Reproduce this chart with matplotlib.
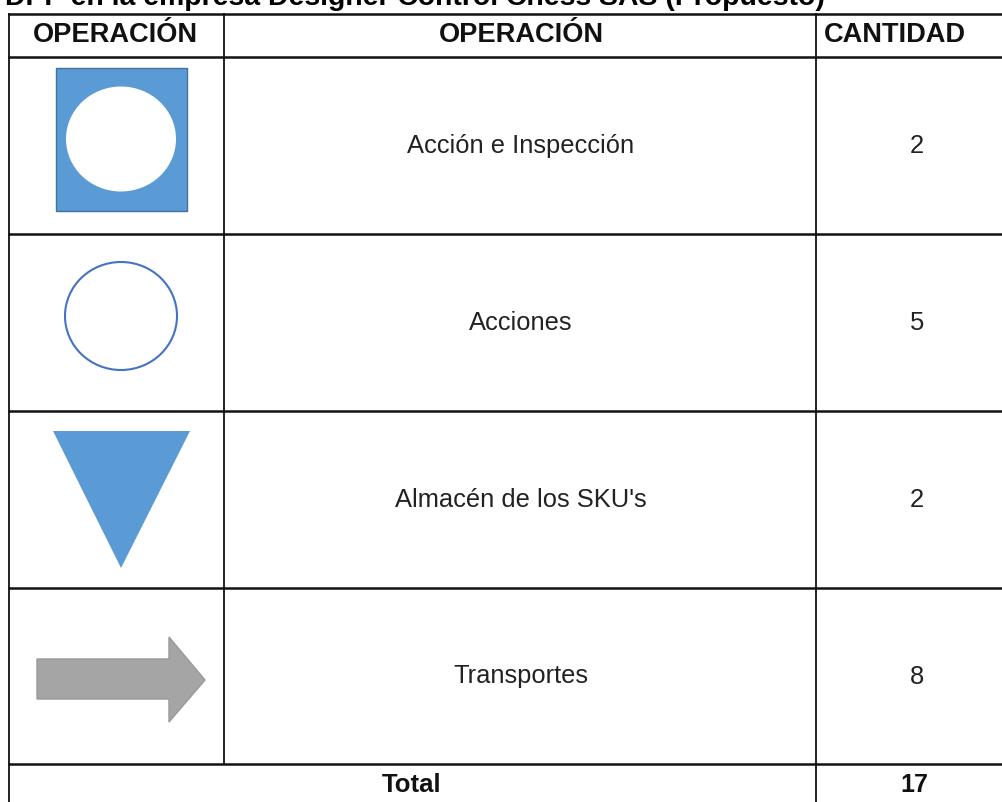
import matplotlib
matplotlib.use('Agg')
import matplotlib.pyplot as plt
from matplotlib.patches import Rectangle, Ellipse, Polygon

# table contents
title = 'DPP en la empresa Designer Control Chess SAS (Propuesto)'
header = ['OPERACIÓN', 'OPERACIÓN', 'CANTIDAD']
operations = ['Acción e Inspección', 'Acciones', "Almacén de los SKU's", 'Transportes']
amounts = [2, 5, 2, 8]
total_label = 'Total'
total_value = sum(amounts)

# grid lines in pixels
col_x = [9, 224, 816, 1003]
row_y = [14, 57, 234, 411, 588, 764, 802]

blue = '#5B9BD5'
line_blue = '#4472C4'
grey = '#A5A5A5'

fig = plt.figure(figsize=(10.03, 8.02), dpi=100)
ax = fig.add_axes([0, 0, 1, 1])
ax.set_xlim(0, 1003)
ax.set_ylim(802, 0)
ax.axis('off')

font = 'Liberation Sans'

# the title is cut by the top edge in the original too
ax.text(5, 5, title, fontsize=20.4, fontweight='bold', family=font, va='baseline', ha='left')

# grid
for y in row_y[:-1]:
    ax.plot([col_x[0], col_x[-1]], [y, y], color='#111111', lw=1.8)
for x in [col_x[0], col_x[2]]:
    ax.plot([x, x], [row_y[0], row_y[-1]], color='#111111', lw=1.3)
ax.plot([col_x[1], col_x[1]], [row_y[0], row_y[-2]], color='#111111', lw=1.3)

# header
centers = [115, 521, 895]
for cx, label in zip(centers, header):
    ax.text(cx, 35, label, fontsize=19.6, fontweight='bold', family=font, ha='center', va='center',
            color='#111111')

# rows
for i, (op, n) in enumerate(zip(operations, amounts)):
    cy = (row_y[i + 1] + row_y[i + 2]) / 2 + 0.5
    ax.text(521, cy, op, fontsize=18.4, family=font, ha='center', va='center', color='#222222')
    ax.text(917, cy, str(n), fontsize=18.4, family=font, ha='center', va='center', color='#222222')

# symbols
ax.add_patch(Rectangle((56, 68), 131, 143, fc=blue, ec='#41719C', lw=1))
ax.add_patch(Ellipse((121, 139), 110, 105, fc='white', ec='none'))
ax.add_patch(Ellipse((121, 316), 112, 108, fc='white', ec=line_blue, lw=1.5))
ax.add_patch(Polygon([(53, 431), (190, 431), (121, 568)], fc=blue, ec='none'))
ax.add_patch(Polygon([(37, 659), (169, 659), (169, 637), (205, 680), (169, 722), (169, 699), (37, 699)],
                     fc=grey, ec='#999999', lw=1))

# total row
ax.text(412, 785, total_label, fontsize=18.5, fontweight='bold', family=font,
        ha='center', va='center', color='#111111')
ax.text(914, 785, str(total_value), fontsize=18, fontweight='bold', family=font,
        ha='center', va='center', color='#111111')

fig.savefig('out.png', dpi=100)
